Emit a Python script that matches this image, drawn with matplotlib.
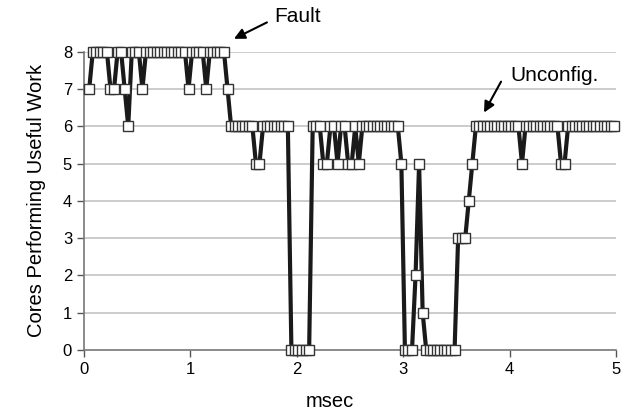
import numpy as np
import matplotlib
matplotlib.use('Agg')
import matplotlib.pyplot as plt

# samples every 1/30 msec, starting at 0.05 msec
t_start = 0.05
t_step = 1.0 / 30

cores = [
    7, 8, 8, 8, 8, 8, 7, 7, 8, 8,   # 0-9
    7, 6, 8, 8, 8, 7, 8, 8, 8, 8,   # 10-19
    8, 8, 8, 8, 8, 8, 8, 8, 7, 8,   # 20-29
    8, 8, 8, 7, 8, 8, 8, 8, 8, 7,   # 30-39
    6, 6, 6, 6, 6, 6, 6, 5, 5, 6,   # 40-49
    6, 6, 6, 6, 6, 6, 6, 0, 0, 0,   # 50-59
    0, 0, 0, 6, 6, 6, 5, 5, 6, 6,   # 60-69
    5, 6, 6, 5, 5, 6, 5, 6, 6, 6,   # 70-79
    6, 6, 6, 6, 6, 6, 6, 6, 5, 0,   # 80-89
    0, 0, 2, 5, 1, 0, 0, 0, 0, 0,   # 90-99
    0, 0, 0, 0, 3, 3, 3, 4, 5, 6,   # 100-109
    6, 6, 6, 6, 6, 6, 6, 6, 6, 6,   # 110-119
    6, 6, 5, 6, 6, 6, 6, 6, 6, 6,   # 120-129
    6, 6, 6, 5, 5, 6, 6, 6, 6, 6,   # 130-139
    6, 6, 6, 6, 6, 6, 6, 6, 6,      # 140-148
]
msec = t_start + t_step * np.arange(len(cores))

x_ticks = [0, 1, 2, 3, 4, 5]
y_ticks = [0, 1, 2, 3, 4, 5, 6, 7, 8]

plt.rcParams['font.family'] = ['Liberation Sans', 'DejaVu Sans']

fig = plt.figure(figsize=(6.26, 4.18), dpi=100)
ax = fig.add_axes([0.134, 0.163, 0.85, 0.713])

for y in y_ticks[1:]:
    ax.axhline(y, color='#c4c4c4', lw=1.2, zorder=0)

ax.plot(msec, cores, color='#1a1a1a', lw=3, marker='s', markersize=7.4,
        markerfacecolor='white', markeredgecolor='#333333', markeredgewidth=1,
        clip_on=False, zorder=3)

ax.set_xlim(0, 5)
ax.set_ylim(0, 8)
ax.set_xticks(x_ticks)
ax.set_yticks(y_ticks)
ax.tick_params(labelsize=12, length=5, color='#555555', width=1)
for s in ['top', 'right']:
    ax.spines[s].set_visible(False)
for s in ['left', 'bottom']:
    ax.spines[s].set_color('#777777')
    ax.spines[s].set_linewidth(1.2)

ax.set_xlabel('msec', fontsize=14.5, labelpad=11, x=0.463)
ax.set_ylabel('Cores Performing Useful Work', fontsize=14.5, labelpad=12)

arrow = dict(arrowstyle='-|>', color='black', lw=1.5, mutation_scale=16,
             shrinkA=0, shrinkB=0)
ax.annotate('', xy=(1.41, 8.35), xytext=(1.72, 8.79), arrowprops=arrow,
            annotation_clip=False)
ax.text(1.786, 8.94, 'Fault', fontsize=15, va='center', ha='left')
ax.annotate('', xy=(3.76, 6.37), xytext=(3.92, 7.20), arrowprops=arrow,
            annotation_clip=False)
ax.text(4.01, 7.36, 'Unconfig.', fontsize=15, va='center', ha='left')

fig.savefig('out.png', dpi=100)
